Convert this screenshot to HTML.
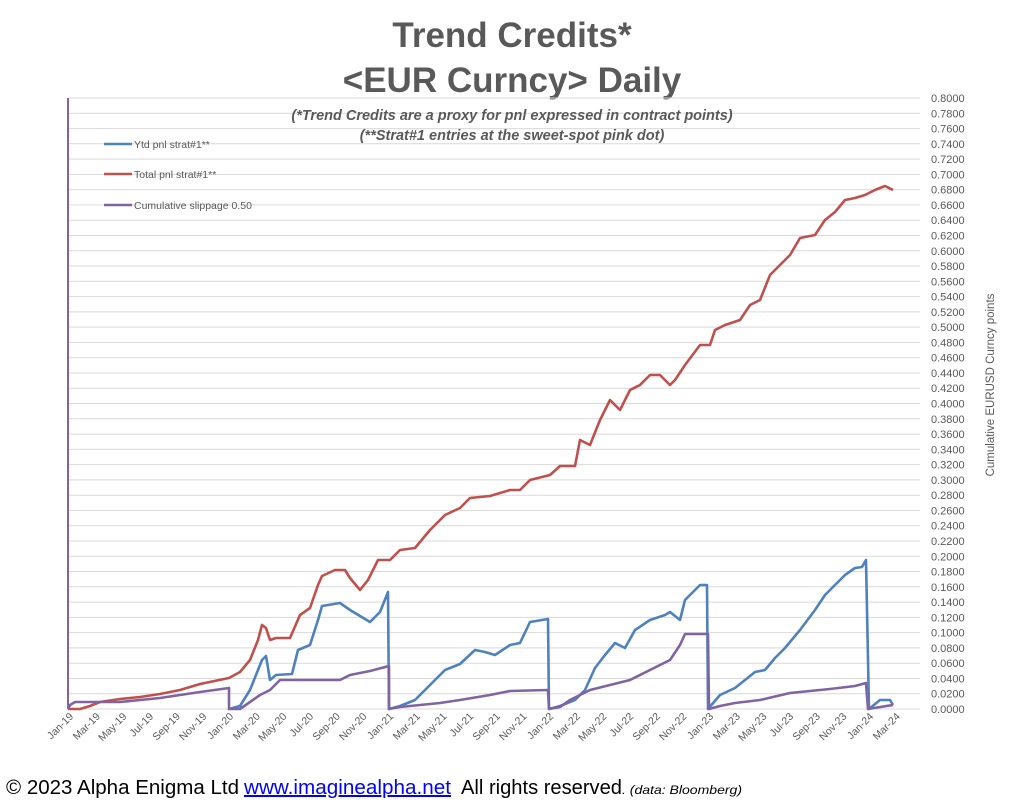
<!DOCTYPE html>
<html><head><meta charset="utf-8"><style>
body{margin:0;background:#fff;}
svg{display:block;font-family:"Liberation Sans",sans-serif;}
</style></head><body>
<svg width="1024" height="807" viewBox="0 0 1024 807" xmlns="http://www.w3.org/2000/svg">
<rect width="1024" height="807" fill="#fff"/>
<text x="512" y="47" text-anchor="middle" font-size="35" font-weight="bold" fill="#595959">Trend Credits*</text>
<text x="512" y="92" text-anchor="middle" font-size="35" font-weight="bold" fill="#595959">&lt;EUR Curncy&gt; Daily</text>
<path stroke="#d9d9d9" stroke-width="1" fill="none" d="M68 98H920M68 113.3H920M68 128.6H920M68 143.8H920M68 159.1H920M68 174.4H920M68 189.7H920M68 204.9H920M68 220.2H920M68 235.5H920M68 250.8H920M68 266H920M68 281.3H920M68 296.6H920M68 311.9H920M68 327.1H920M68 342.4H920M68 357.7H920M68 373H920M68 388.2H920M68 403.5H920M68 418.8H920M68 434.1H920M68 449.3H920M68 464.6H920M68 479.9H920M68 495.2H920M68 510.4H920M68 525.7H920M68 541H920M68 556.3H920M68 571.5H920M68 586.8H920M68 602.1H920M68 617.4H920M68 632.6H920M68 647.9H920M68 663.2H920M68 678.5H920M68 693.7H920M68 709H920"/>
<text x="512" y="120" text-anchor="middle" font-size="14.5" font-weight="bold" font-style="italic" fill="#595959">(*Trend Credits are a proxy for pnl expressed in contract points)</text>
<text x="512" y="140" text-anchor="middle" font-size="14.5" font-weight="bold" font-style="italic" fill="#595959">(**Strat#1 entries at the sweet-spot pink dot)</text>
<g font-size="11" fill="#595959">
<text x="931" y="102">0.8000</text><text x="931" y="117.3">0.7800</text><text x="931" y="132.6">0.7600</text><text x="931" y="147.8">0.7400</text><text x="931" y="163.1">0.7200</text><text x="931" y="178.4">0.7000</text><text x="931" y="193.7">0.6800</text><text x="931" y="208.9">0.6600</text><text x="931" y="224.2">0.6400</text><text x="931" y="239.5">0.6200</text><text x="931" y="254.8">0.6000</text><text x="931" y="270">0.5800</text><text x="931" y="285.3">0.5600</text><text x="931" y="300.6">0.5400</text><text x="931" y="315.9">0.5200</text><text x="931" y="331.1">0.5000</text><text x="931" y="346.4">0.4800</text><text x="931" y="361.7">0.4600</text><text x="931" y="377">0.4400</text><text x="931" y="392.2">0.4200</text><text x="931" y="407.5">0.4000</text><text x="931" y="422.8">0.3800</text><text x="931" y="438.1">0.3600</text><text x="931" y="453.3">0.3400</text><text x="931" y="468.6">0.3200</text><text x="931" y="483.9">0.3000</text><text x="931" y="499.2">0.2800</text><text x="931" y="514.4">0.2600</text><text x="931" y="529.7">0.2400</text><text x="931" y="545">0.2200</text><text x="931" y="560.3">0.2000</text><text x="931" y="575.5">0.1800</text><text x="931" y="590.8">0.1600</text><text x="931" y="606.1">0.1400</text><text x="931" y="621.4">0.1200</text><text x="931" y="636.6">0.1000</text><text x="931" y="651.9">0.0800</text><text x="931" y="667.2">0.0600</text><text x="931" y="682.5">0.0400</text><text x="931" y="697.7">0.0200</text><text x="931" y="713">0.0000</text>
</g>
<text transform="translate(994,385) rotate(-90)" text-anchor="middle" font-size="11.5" fill="#595959">Cumulative EURUSD Curncy points</text>
<g font-size="10.5" fill="#595959" text-anchor="end">
<text transform="translate(74,717) rotate(-45)">Jan-19</text><text transform="translate(100.7,717) rotate(-45)">Mar-19</text><text transform="translate(127.3,717) rotate(-45)">May-19</text><text transform="translate(154,717) rotate(-45)">Jul-19</text><text transform="translate(180.7,717) rotate(-45)">Sep-19</text><text transform="translate(207.3,717) rotate(-45)">Nov-19</text>
<text transform="translate(234,717) rotate(-45)">Jan-20</text><text transform="translate(260.7,717) rotate(-45)">Mar-20</text><text transform="translate(287.3,717) rotate(-45)">May-20</text><text transform="translate(314,717) rotate(-45)">Jul-20</text><text transform="translate(340.7,717) rotate(-45)">Sep-20</text><text transform="translate(367.3,717) rotate(-45)">Nov-20</text>
<text transform="translate(394,717) rotate(-45)">Jan-21</text><text transform="translate(420.7,717) rotate(-45)">Mar-21</text><text transform="translate(447.3,717) rotate(-45)">May-21</text><text transform="translate(474,717) rotate(-45)">Jul-21</text><text transform="translate(500.7,717) rotate(-45)">Sep-21</text><text transform="translate(527.3,717) rotate(-45)">Nov-21</text>
<text transform="translate(554,717) rotate(-45)">Jan-22</text><text transform="translate(580.7,717) rotate(-45)">Mar-22</text><text transform="translate(607.3,717) rotate(-45)">May-22</text><text transform="translate(634,717) rotate(-45)">Jul-22</text><text transform="translate(660.7,717) rotate(-45)">Sep-22</text><text transform="translate(687.3,717) rotate(-45)">Nov-22</text>
<text transform="translate(714,717) rotate(-45)">Jan-23</text><text transform="translate(740.7,717) rotate(-45)">Mar-23</text><text transform="translate(767.3,717) rotate(-45)">May-23</text><text transform="translate(794,717) rotate(-45)">Jul-23</text><text transform="translate(820.7,717) rotate(-45)">Sep-23</text><text transform="translate(847.3,717) rotate(-45)">Nov-23</text>
<text transform="translate(874,717) rotate(-45)">Jan-24</text><text transform="translate(900.7,717) rotate(-45)">Mar-24</text>
</g>
<line x1="68" y1="98" x2="68" y2="709" stroke="#8064a2" stroke-width="2"/>
<g fill="none" stroke-width="2.6" stroke-linejoin="round">
<polyline stroke="#c0504d" points="68,709 80,709 90,706 100,702 120,699 140,697 160,694 180,690 200,684 229,678 240,672 250,660 258,640 262,625 266,628 270,640 276,638 290,638 300,615 310,608 318,585 322,576 335,570 345,570 350,578 360,590 368,580 378,560 390,560 400,550 415,548 430,530 445,515 460,508 470,498 490,496 510,490 520,490 530,480 550,475 560,466 575,466 580,440 590,445 600,420 610,400 620,410 630,390 640,385 650,375 660,375 670,385 675,380 685,365 700,345 710,345 715,330 725,325 740,320 750,305 760,300 770,275 780,265 790,255 800,238 815,235 825,220 835,212 845,200 855,198 865,195 875,190 885,186 893,190"/>
<polyline stroke="#4f81bd" points="229,709 240,706 250,690 258,670 262,660 266,656 270,680 276,675 292,674 298,650 310,645 318,620 322,606 340,603 350,610 360,616 370,622 380,612 388,592 389,709 400,706 415,700 430,685 445,670 460,664 475,650 485,652 495,655 510,645 520,643 530,622 548,619 549,709 560,706 575,700 585,690 595,668 605,655 615,643 625,648 635,630 650,620 665,615 670,612 680,620 685,600 700,585 707,585 708,709 720,695 735,688 745,680 755,672 765,670 775,658 785,648 800,630 815,610 825,595 835,585 845,575 855,568 862,567 866,560 869,709 880,700 890,700 893,705"/>
<polyline stroke="#8064a2" points="68,709 70,705 75,702 120,702 160,698 200,692 229,688 229,709 240,709 250,702 260,695 270,690 280,680 300,680 340,680 350,675 370,671 389,666 389,709 400,707 420,705 440,703 460,700 490,695 510,691 548,690 549,709 560,707 570,700 590,690 610,685 630,680 650,670 670,660 680,645 685,634 708,634 709,709 720,706 735,703 760,700 790,693 830,689 855,686 866,683 868,709 893,705"/>
</g>
<g stroke-width="2.6">
<line x1="104" y1="144" x2="132" y2="144" stroke="#4f81bd"/>
<line x1="104" y1="174" x2="132" y2="174" stroke="#c0504d"/>
<line x1="104" y1="205" x2="132" y2="205" stroke="#8064a2"/>
</g>
<g font-size="10.5" fill="#595959">
<text x="134" y="148">Ytd pnl strat#1**</text>
<text x="134" y="178">Total pnl strat#1**</text>
<text x="134" y="209">Cumulative slippage 0.50</text>
</g>
<g font-size="20" fill="#000">
<text x="6" y="794" textLength="233" lengthAdjust="spacingAndGlyphs">© 2023 Alpha Enigma Ltd</text>
<text x="244" y="794" fill="#0000ff" text-decoration="underline" textLength="207" lengthAdjust="spacingAndGlyphs">www.imaginealpha.net</text>
<text x="461" y="794" textLength="161" lengthAdjust="spacingAndGlyphs">All rights reserved</text>
<text x="622" y="794" font-size="12" font-style="italic" textLength="120" lengthAdjust="spacingAndGlyphs">. (data: Bloomberg)</text>
</g>
</svg>
</body></html>
